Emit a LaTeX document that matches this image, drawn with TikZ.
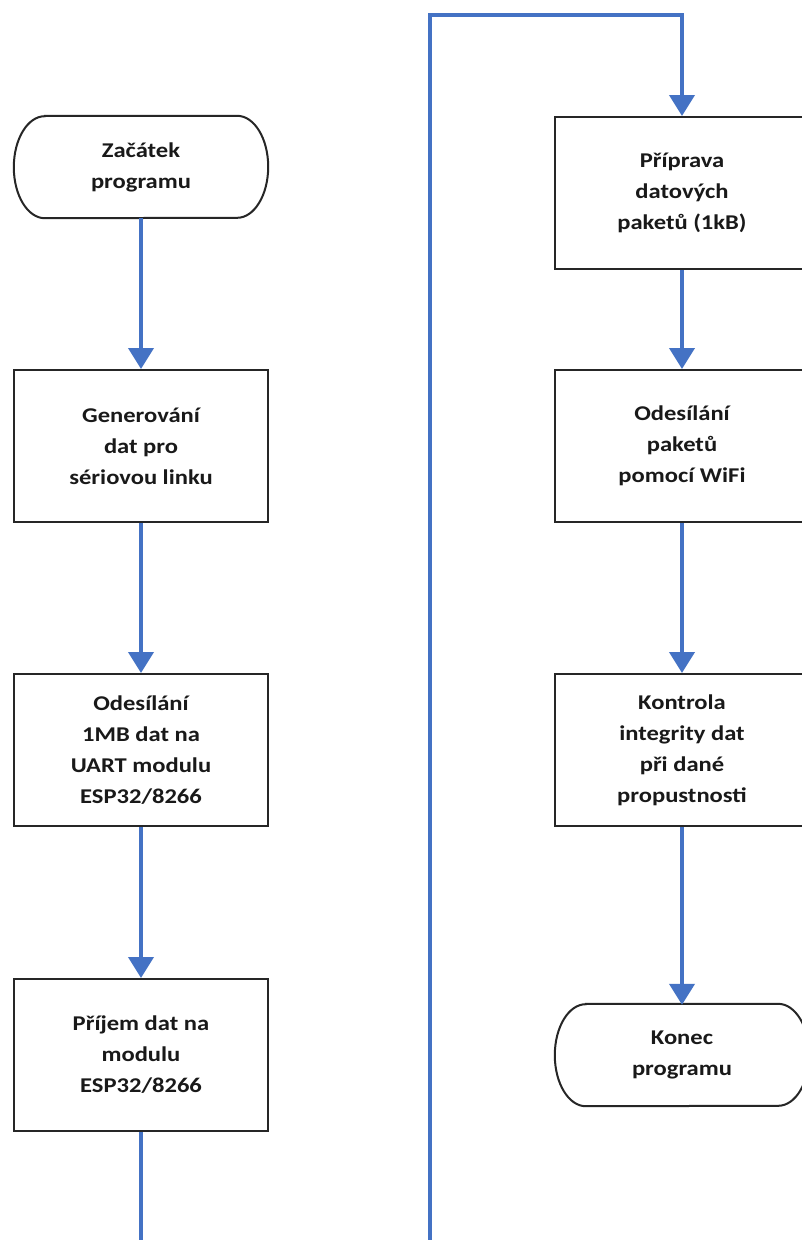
\documentclass[tikz,border=0pt]{standalone}
\usepackage{fontspec}
\setmainfont{Carlito}[FakeStretch=1.17]
\usetikzlibrary{arrows.meta}
\definecolor{flowblue}{HTML}{4472C4}
\definecolor{edge}{HTML}{262626}
\begin{document}
\begin{tikzpicture}[x=1pt,y=-1pt,
  box/.style={draw=edge,line width=2pt,rectangle,minimum width=254pt,minimum height=152pt,
    align=center,font=\fontsize{21}{31}\selectfont\bfseries,text=black!90,inner sep=0pt},
  term/.style={rectangle,minimum width=254pt,minimum height=102pt,
    align=center,font=\fontsize{21}{31}\selectfont\bfseries,text=black!90,inner sep=0pt},
  flow/.style={draw=flowblue,line width=4pt,-{Triangle[width=25pt,length=21pt]}},
  tborder/.style={draw=edge,line width=2pt}]
\useasboundingbox (0,0) rectangle (802,1240);
\clip (0,0) rectangle (802,1240);
\fill[white] (0,0) rectangle (802,1240);

\node[term] (start) at (141,167) {Začátek\\programu};
\node[box] (gen) at (141,446) {Generování\\dat pro\\sériovou linku};
\node[box] (ode1) at (141,750) {Odesílání\\1MB dat na\\UART modulu\\ESP32/8266};
\node[box] (prij) at (141,1055) {Příjem dat na\\modulu\\ESP32/8266};
\node[box] (prip) at (682,193) {Příprava\\datových\\paketů (1kB)};
\node[box] (ode2) at (682,446) {Odesílání\\paketů\\pomocí WiFi};
\node[box] (kon) at (682,750) {Kontrola\\integrity dat\\při dané\\propustnosti};
\node[term] (end) at (682,1055) {Konec\\programu};

\foreach \n in {start,end}{
  \draw[tborder] ([xshift=31pt]\n.north west) -- ([xshift=-31pt]\n.north east)
    arc[start angle=90,end angle=-90,x radius=31pt,y radius=51pt]
    -- ([xshift=31pt]\n.south west)
    arc[start angle=270,end angle=90,x radius=31pt,y radius=51pt] -- cycle;
}

\coordinate (b1) at (141,1300);
\coordinate (b2) at (430,1300);
\coordinate (t1) at (430,15);
\coordinate (t2) at (682,15);

\draw[flow] (start.south) -- (gen.north);
\draw[flow] (gen.south) -- (ode1.north);
\draw[flow] (ode1.south) -- (prij.north);
\draw[flow] (prij.south) -- (b1) -- (b2) -- (t1) -- (t2) -- (prip.north);
\draw[flow] (prip.south) -- (ode2.north);
\draw[flow] (ode2.south) -- (kon.north);
\draw[flow] (kon.south) -- ([yshift=-1pt]end.north);
\end{tikzpicture}
\end{document}
